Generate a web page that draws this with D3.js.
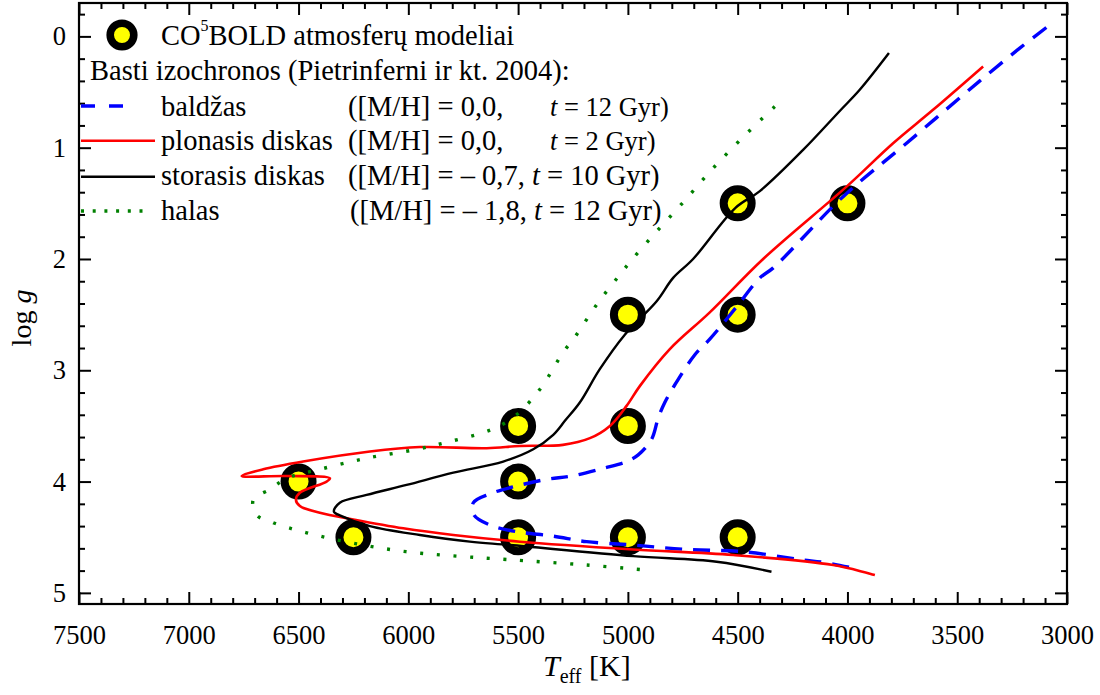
<!DOCTYPE html>
<html><head><meta charset="utf-8">
<script src="https://cdn.jsdelivr.net/npm/d3@7"></script>
<style>
html,body{margin:0;padding:0;background:#fff;}
text{font-family:"Liberation Serif","Times New Roman",serif;fill:#000;}
</style></head>
<body><svg id="c" width="1100" height="695"></svg>
<script>
// ---- data (Teff [K], log g) ----
const models = [[4000,1.5],[4500,1.5],[5000,2.5],[4500,2.5],[5500,3.5],[5000,3.5],[6500,4.0],[5500,4.0],[6250,4.5],[5500,4.5],[5000,4.5],[4500,4.5]];
const baldzas = [[3094,-0.08],[3218,0.11],[3397,0.40],[3731,0.96],[4020,1.44],[4338,2.08],[4399,2.17],[4505,2.43],[4627,2.72],[4695,2.86],[4786,3.13],[4832,3.29],[4862,3.43],[4892,3.62],[4953,3.76],[5006,3.82],[5112,3.88],[5256,3.95],[5370,3.98],[5507,4.04],[5628,4.11],[5704,4.19],[5701,4.30],[5628,4.39],[5507,4.45],[5340,4.49],[5188,4.54],[4976,4.57],[4733,4.61],[4475,4.63],[4217,4.70],[4095,4.73],[3944,4.79]];
const plonasis = [[3382,0.27],[3610,0.66],[3792,0.96],[4004,1.35],[4384,2.0],[4627,2.48],[4809,2.81],[4945,3.14],[5006,3.32],[5082,3.50],[5173,3.61],[5296,3.67],[5492,3.68],[5643,3.70],[5947,3.69],[6175,3.73],[6479,3.82],[6661,3.89],[6759,3.95],[6554,3.95],[6357,3.97],[6372,4.0],[6494,4.10],[6512,4.16],[6494,4.22],[6403,4.28],[6251,4.34],[6023,4.42],[5795,4.48],[5492,4.54],[4976,4.61],[4520,4.66],[4065,4.75],[3875,4.84]];
const storasis = [[3811,0.15],[3944,0.48],[4035,0.67],[4202,1.02],[4399,1.39],[4510,1.54],[4703,2.0],[4794,2.17],[4869,2.38],[5014,2.68],[5128,2.99],[5219,3.29],[5285,3.45],[5340,3.58],[5431,3.71],[5568,3.82],[5795,3.92],[6008,4.03],[6190,4.12],[6312,4.19],[6339,4.27],[6304,4.31],[6175,4.40],[5947,4.48],[5720,4.54],[5537,4.57],[4976,4.67],[4596,4.72],[4346,4.81]];
const halas = [[4331,0.63],[4478,0.91],[4619,1.20],[4748,1.49],[4877,1.77],[4983,2.01],[5044,2.16],[5135,2.39],[5241,2.70],[5295,2.84],[5386,3.13],[5446,3.28],[5507,3.40],[5583,3.50],[5659,3.56],[5811,3.64],[5962,3.71],[6190,3.79],[6403,3.89],[6554,3.97],[6630,4.07],[6706,4.16],[6691,4.30],[6615,4.37],[6463,4.46],[6235,4.56],[6008,4.63],[5780,4.67],[5552,4.70],[5188,4.75],[4885,4.80]];
const xTicks = [7500,7000,6500,6000,5500,5000,4500,4000,3500,3000];
const yTicks = [0,1,2,3,4,5];
const legendNames = ["baldžas","plonasis diskas","storasis diskas","halas"];
const legendMH = ["([M/H] = 0,0,","([M/H] = 0,0,","([M/H] = – 0,7,","([M/H] = – 1,8,"];
const legendAge = ["= 12 Gyr)","= 2 Gyr)","= 10 Gyr)","= 12 Gyr)"];

// ---- layout ----
const L=79, R=1067, T=3, B=604;
const x = d3.scaleLinear().domain([7500,3000]).range([L,R]);
const y = d3.scaleLinear().domain([-0.3,5.1]).range([T,B]);
const svg = d3.select("#c");

// markers (drawn under curves)
svg.append("g").selectAll("circle").data(models).join("circle")
  .attr("cx",d=>x(d[0])).attr("cy",d=>y(d[1])).attr("r",14)
  .attr("fill","#ffff00").attr("stroke","#000").attr("stroke-width",8);

const line = d3.line().x(d=>x(d[0])).y(d=>y(d[1])).curve(d3.curveCatmullRom.alpha(0.5));
const styles = [
  {data:baldzas,color:"#0000ff",w:3.4,dash:"17,11"},
  {data:plonasis,color:"#ff0000",w:2.6,dash:null},
  {data:storasis,color:"#000000",w:2.4,dash:null},
  {data:halas,color:"#008000",w:3.4,dash:"3,13.7"}
];
styles.forEach(s=>{
  svg.append("path").datum(s.data).attr("d",line).attr("fill","none")
    .attr("stroke",s.color).attr("stroke-width",s.w)
    .attr("stroke-dasharray",s.dash).attr("stroke-linecap","butt");
});

// axes
const fs = 26.5;
function minor(dom,step){const a=[];for(let v=Math.min(...dom);v<=Math.max(...dom)+1e-9;v+=step)a.push(+v.toFixed(3));return a;}
const xMinor = minor([3000,7500],100).filter(v=>v%500!==0);
const yMinor = minor([-0.2,5.0],0.2).filter(v=>Math.abs(v-Math.round(v))>1e-6);
const gB = svg.append("g").attr("transform",`translate(0,${B})`)
  .call(d3.axisBottom(x).tickValues(xTicks).tickSize(-12).tickPadding(21).tickFormat(d3.format("d")));
const gBm = svg.append("g").attr("transform",`translate(0,${B})`)
  .call(d3.axisBottom(x).tickValues(xMinor).tickSize(-6).tickFormat(""));
const gT = svg.append("g").attr("transform",`translate(0,${T})`)
  .call(d3.axisTop(x).tickValues(xTicks).tickSize(-12).tickFormat(""));
const gTm = svg.append("g").attr("transform",`translate(0,${T})`)
  .call(d3.axisTop(x).tickValues(xMinor).tickSize(-6).tickFormat(""));
const gL = svg.append("g").attr("transform",`translate(${L},0)`)
  .call(d3.axisLeft(y).tickValues(yTicks).tickSize(-12).tickPadding(13).tickFormat(d3.format("d")));
const gLm = svg.append("g").attr("transform",`translate(${L},0)`)
  .call(d3.axisLeft(y).tickValues(yMinor).tickSize(-6).tickFormat(""));
const gR = svg.append("g").attr("transform",`translate(${R},0)`)
  .call(d3.axisRight(y).tickValues(yTicks).tickSize(-12).tickFormat(""));
const gRm = svg.append("g").attr("transform",`translate(${R},0)`)
  .call(d3.axisRight(y).tickValues(yMinor).tickSize(-6).tickFormat(""));
[gB,gBm,gT,gTm,gL,gLm,gR,gRm].forEach(g=>{
  g.select(".domain").remove();
  g.selectAll(".tick line").attr("stroke","#000").attr("stroke-width",2);
  g.selectAll(".tick text").attr("font-family","Liberation Serif").attr("font-size",fs).attr("fill","#000");
});
svg.append("rect").attr("x",L).attr("y",T).attr("width",R-L).attr("height",B-T)
  .attr("fill","none").attr("stroke","#000").attr("stroke-width",2.2);

// axis titles
svg.append("text").attr("transform","translate(31,318) rotate(-90)").attr("text-anchor","middle")
  .attr("font-size",28).html('log <tspan font-style="italic">g</tspan>');
const xt = svg.append("text").attr("x",543).attr("y",676).attr("font-size",30);
xt.append("tspan").attr("font-style","italic").text("T");
xt.append("tspan").attr("font-size",20).attr("dy",7).text("eff");
xt.append("tspan").attr("dy",-7).text(" [K]");

// legend
const lfs = 28.5;
svg.append("circle").attr("cx",122).attr("cy",35).attr("r",11.8).attr("fill","#ffff00").attr("stroke","#000").attr("stroke-width",7.6);
const t1 = svg.append("text").attr("x",161).attr("y",45).attr("font-size",lfs);
t1.append("tspan").text("CO");
t1.append("tspan").attr("font-size",16).attr("dy",-14).text("5");
t1.append("tspan").attr("dy",14).text("BOLD atmosferų modeliai");
svg.append("text").attr("x",90).attr("y",80).attr("font-size",lfs).text("Basti izochronos (Pietrinferni ir kt. 2004):");
const rowsY = [115.5,150,185,220];
const sampleY = [106,140.7,176.7,211];
const sampleX2 = [134,155,155,143];
const legDash = ["14,14",null,null,"3,8.7"];
styles.forEach((s,i)=>{
  svg.append("line").attr("x1",81).attr("x2",sampleX2[i]).attr("y1",sampleY[i]).attr("y2",sampleY[i])
    .attr("stroke",s.color).attr("stroke-width",s.w).attr("stroke-dasharray",legDash[i]);
  svg.append("text").attr("x",161).attr("y",rowsY[i]).attr("font-size",lfs).text(legendNames[i]);
  if(i<2){
    svg.append("text").attr("x",348).attr("y",rowsY[i]).attr("font-size",lfs).text(legendMH[i]);
    const tail = svg.append("text").attr("x",550).attr("y",rowsY[i]).attr("font-size",26.5).attr("xml:space","preserve");
    tail.append("tspan").attr("font-style","italic").text("t");
    tail.append("tspan").text(" "+legendAge[i]);
  } else {
    const tt = svg.append("text").attr("x",i<3?348:350).attr("y",rowsY[i]).attr("font-size",lfs).attr("xml:space","preserve");
    tt.append("tspan").text(legendMH[i]+" ");
    tt.append("tspan").attr("font-style","italic").text("t");
    tt.append("tspan").text(" "+legendAge[i]);
  }
});
</script></body></html>
